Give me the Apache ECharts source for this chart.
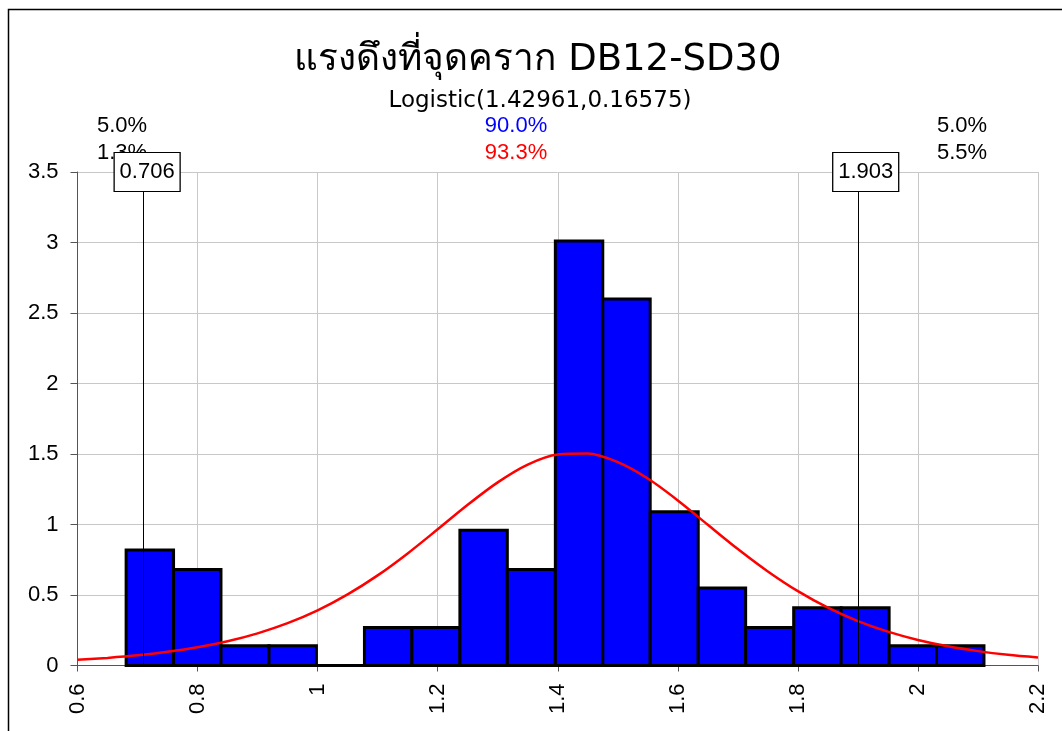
<!DOCTYPE html>
<html>
<head>
<meta charset="utf-8">
<script src="https://cdn.jsdelivr.net/npm/echarts@6/dist/echarts.min.js"></script>
<style>
  html, body { margin: 0; padding: 0; background: #fff; }
  #chart { width: 1062px; height: 731px; }
</style>
</head>
<body>
<div id="chart"></div>
<script>
// bin edges of the histogram
const binEdges = [0.681, 0.760, 0.839, 0.919, 0.998, 1.078, 1.157, 1.237, 1.316, 1.396,
  1.475, 1.554, 1.634, 1.713, 1.793, 1.872, 1.952, 2.031, 2.110]
// bar heights (density)
const binHeights = [0.82, 0.68, 0.14, 0.14, 0, 0.27, 0.27, 0.96, 0.68, 3.01,
  2.60, 1.09, 0.55, 0.27, 0.41, 0.41, 0.14, 0.14]
// fitted logistic curve, sampled
const curveX = [0.60, 0.65, 0.70, 0.75, 0.80, 0.85, 0.90, 0.95, 1.00, 1.05, 1.10,
  1.15, 1.20, 1.25, 1.30, 1.35, 1.40, 1.45, 1.50, 1.55, 1.60, 1.65, 1.70, 1.75,
  1.80, 1.85, 1.90, 1.95, 2.00, 2.05, 2.10, 2.15, 2.20]
const curveY = [0.040, 0.054, 0.072, 0.097, 0.129, 0.172, 0.228, 0.300, 0.391, 0.504,
  0.639, 0.795, 0.966, 1.140, 1.299, 1.425, 1.496, 1.503, 1.442, 1.326, 1.171,
  0.998, 0.826, 0.667, 0.527, 0.410, 0.315, 0.240, 0.181, 0.136, 0.102, 0.076, 0.057]
// marker lines
const markers = [0.706, 1.903]
const markerLabels = ['0.706', '1.903']

const titleText = 'แรงดึงที่จุดคราก DB12-SD30'
const subText = 'Logistic(1.42961,0.16575)'

const chart = echarts.init(document.getElementById('chart'))

const barData = binHeights.map((h, i) => [binEdges[i], binEdges[i + 1], h])
const curveData = curveX.map((x, i) => [x, curveY[i]])

const labelFont = '22px "Liberation Sans", Arial, sans-serif'

const option = {
  animation: false,
  grid: {
    left: 77.5,
    right: 24,
    top: 172,
    bottom: 65.5,
    containLabel: false
  },
  xAxis: {
    type: 'value',
    min: 0.6,
    max: 2.2,
    interval: 0.2,
    axisLine: { show: true, onZero: false, lineStyle: { color: '#555', width: 1 } },
    axisTick: { show: true, length: 6, lineStyle: { color: '#555' } },
    axisLabel: {
      rotate: 90,
      margin: 18,
      color: '#000',
      fontSize: 22,
      fontFamily: '"Liberation Sans", Arial, sans-serif',
      formatter: v => String(Math.round(v * 10) / 10)
    },
    splitLine: { show: true, lineStyle: { color: '#c8c8c8', width: 1 } }
  },
  yAxis: {
    type: 'value',
    min: 0,
    max: 3.5,
    interval: 0.5,
    axisLine: { show: true, lineStyle: { color: '#555', width: 1 } },
    axisTick: { show: true, length: 7, lineStyle: { color: '#555' } },
    axisLabel: {
      margin: 19,
      color: '#000',
      fontSize: 22,
      fontFamily: '"Liberation Sans", Arial, sans-serif'
    },
    splitLine: { show: true, lineStyle: { color: '#c8c8c8', width: 1 } }
  },
  series: [
    {
      type: 'custom',
      name: 'hist',
      data: barData,
      encode: { x: [0, 1], y: 2 },
      z: 2,
      renderItem: function(params, api) {
        const p0 = api.coord([api.value(0), api.value(2)])
        const p1 = api.coord([api.value(1), 0])
        return {
          type: 'rect',
          shape: { x: p0[0], y: p0[1], width: p1[0] - p0[0], height: p1[1] - p0[1] },
          style: { fill: '#0000ff', stroke: '#000', lineWidth: 3 }
        }
      }
    },
    {
      type: 'line',
      name: 'marker',
      data: [],
      z: 3,
      markLine: {
        silent: true,
        symbol: 'none',
        label: { show: false },
        lineStyle: { color: '#000', width: 1, type: 'solid' },
        data: markers.map(m => ({ xAxis: m }))
      },
      markPoint: {
        silent: true,
        symbol: 'rect',
        symbolSize: [66, 39],
        symbolOffset: [6, 0],
        itemStyle: { color: '#fff', borderColor: '#000', borderWidth: 1 },
        label: { show: true, color: '#000', fontSize: 22, fontFamily: '"Liberation Sans", Arial, sans-serif' },
        data: markers.map((m, i) => ({ coord: [m, 3.5], value: markerLabels[i] }))
      }
    },
    {
      type: 'line',
      name: 'Logistic',
      data: curveData,
      smooth: 0.3,
      showSymbol: false,
      z: 4,
      lineStyle: { color: '#ff0000', width: 2.5 }
    }
  ],
  graphic: [
    {
      type: 'rect',
      shape: { x: 8.5, y: 9.5, width: 1060, height: 730 },
      style: { fill: 'none', stroke: '#000', lineWidth: 1.5 },
      silent: true
    },
    {
      type: 'text', x: 538, y: 60,
      style: { text: titleText, font: '37px Tahoma, "DejaVu Sans", sans-serif', fill: '#000', textAlign: 'center', textVerticalAlign: 'middle' }
    },
    {
      type: 'text', x: 540, y: 101,
      style: { text: subText, font: '23px Tahoma, "DejaVu Sans", sans-serif', fill: '#000', textAlign: 'center', textVerticalAlign: 'middle' }
    },
    { type: 'text', x: 97, y: 126, style: { text: '5.0%', font: labelFont, fill: '#000', textAlign: 'left', textVerticalAlign: 'middle' } },
    { type: 'text', x: 97, y: 153, style: { text: '1.3%', font: labelFont, fill: '#000', textAlign: 'left', textVerticalAlign: 'middle' } },
    { type: 'text', x: 516, y: 126, style: { text: '90.0%', font: labelFont, fill: '#0000ff', textAlign: 'center', textVerticalAlign: 'middle' } },
    { type: 'text', x: 516, y: 153, style: { text: '93.3%', font: labelFont, fill: '#ff0000', textAlign: 'center', textVerticalAlign: 'middle' } },
    { type: 'text', x: 937, y: 126, style: { text: '5.0%', font: labelFont, fill: '#000', textAlign: 'left', textVerticalAlign: 'middle' } },
    { type: 'text', x: 937, y: 153, style: { text: '5.5%', font: labelFont, fill: '#000', textAlign: 'left', textVerticalAlign: 'middle' } }
  ]
}

chart.setOption(option)
</script>
</body>
</html>
